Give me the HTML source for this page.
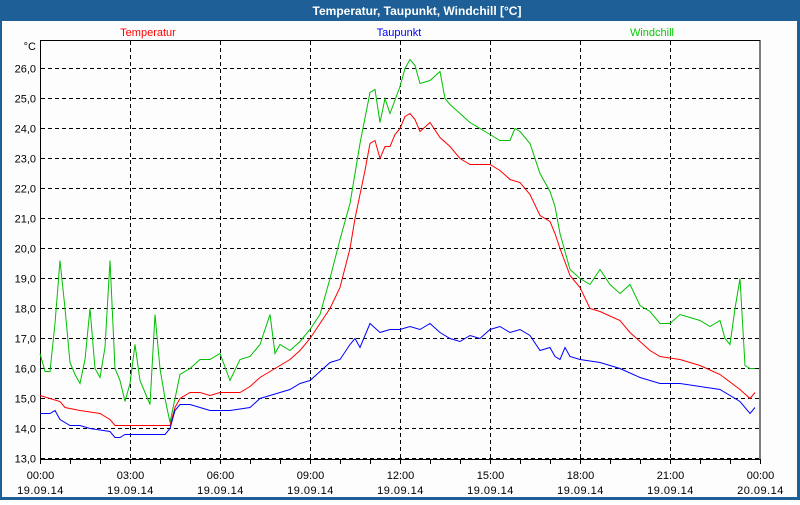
<!DOCTYPE html>
<html><head><meta charset="utf-8"><style>
body{margin:0;width:800px;height:500px;overflow:hidden;background:#fff}
</style></head><body>
<svg id="s" width="800" height="500" xmlns="http://www.w3.org/2000/svg" font-family="Liberation Sans, sans-serif">
<rect x="0" y="0" width="800" height="500" fill="#1d5f96"/>
<rect x="2" y="21" width="795" height="476" fill="#fdfdfd"/>
<text x="417" y="15" fill="#fff" font-size="12" font-weight="bold" text-anchor="middle">Temperatur, Taupunkt, Windchill [°C]</text>
<text x="148" y="36" fill="#ff0000" font-size="11" text-anchor="middle">Temperatur</text>
<text x="399" y="36" fill="#0000ff" font-size="11" text-anchor="middle">Taupunkt</text>
<text x="652" y="36" fill="#00cc00" font-size="11" text-anchor="middle">Windchill</text>
<text x="36" y="50" font-size="11" text-anchor="end">°C</text>
<g id="grid" stroke="#000" stroke-width="1" stroke-dasharray="4,3" fill="none"></g>
<rect x="40.5" y="40.5" width="719.5" height="419" fill="none" stroke="#000" stroke-width="1"/>
<g id="lab" font-size="11"></g>
<polyline id="g" fill="none" stroke="#00c000" stroke-width="1"/>
<polyline id="r" fill="none" stroke="#ff0000" stroke-width="1"/>
<polyline id="b" fill="none" stroke="#0000ff" stroke-width="1"/>
</svg>
<script>
var ns="http://www.w3.org/2000/svg";
function Y(v){return 68.5+(26-v)*30;}
var grid=document.getElementById('grid'),lab=document.getElementById('lab');
function el(p,t,a,txt){var e=document.createElementNS(ns,t);for(var k in a)e.setAttribute(k,a[k]);if(txt)e.textContent=txt;p.appendChild(e);return e;}
for(var v=13;v<=26;v++){var y=Y(v);el(grid,'line',{x1:41,x2:760,y1:y,y2:y});
el(lab,'text',{x:36,y:y+4,'text-anchor':'end'},v+',0');}
var times=['00:00','03:00','06:00','09:00','12:00','15:00','18:00','21:00','00:00'];
var dates=['19.09.14','19.09.14','19.09.14','19.09.14','19.09.14','19.09.14','19.09.14','19.09.14','20.09.14'];
for(var i=0;i<9;i++){var x=40.5+i*90;if(i>0&&i<8)el(grid,'line',{x1:x,x2:x,y1:41,y2:459});
el(lab,'text',{x:x,y:479,'text-anchor':'middle'},times[i]);el(lab,'text',{x:x,y:494,'text-anchor':'middle','letter-spacing':'0.5'},dates[i]);}
for(var h=0;h<=24;h++){var x=40.5+h*30;el(lab,'line',{x1:x,x2:x,y1:459,y2:464,stroke:'#000'});}
function P(id,d){var s=[];for(var i=0;i<d.length;i+=2)s.push(d[i]+','+Y(d[i+1]).toFixed(1));document.getElementById(id).setAttribute('points',s.join(' '));}
P('r',[40,15.1,60,14.9,65,14.7,80,14.6,100,14.5,110,14.3,115,14.1,130,14.1,170,14.1,175,14.7,180,15.0,190,15.2,200,15.2,210,15.1,220,15.2,240,15.2,250,15.4,260,15.7,270,15.9,280,16.1,290,16.3,300,16.6,310,17.0,320,17.5,330,18.0,340,18.7,350,20.0,355,21.0,360,21.8,365,22.6,370,23.5,375,23.6,380,23.0,385,23.4,390,23.4,395,23.8,400,24.0,405,24.4,410,24.5,415,24.3,420,23.9,430,24.2,440,23.7,450,23.4,460,23.0,470,22.8,480,22.8,490,22.8,500,22.6,510,22.3,520,22.2,530,21.8,540,21.1,550,20.9,555,20.5,560,20.0,570,19.1,580,18.7,590,18.0,600,17.9,620,17.6,630,17.2,640,16.9,650,16.6,660,16.4,680,16.3,690,16.2,700,16.1,720,15.8,740,15.3,750,15.0,755,15.2]);
P('b',[40,14.5,50,14.5,55,14.6,60,14.3,70,14.1,80,14.1,90,14.0,100,13.95,110,13.9,115,13.7,120,13.7,125,13.8,130,13.8,165,13.8,170,14.0,175,14.6,180,14.8,190,14.8,200,14.7,210,14.6,230,14.6,250,14.7,260,15.0,270,15.1,280,15.2,290,15.3,300,15.5,310,15.6,320,15.9,330,16.2,340,16.3,350,16.8,355,17.0,360,16.7,370,17.5,380,17.2,390,17.3,400,17.3,410,17.4,420,17.3,430,17.5,440,17.2,450,17.0,460,16.9,470,17.1,480,17.0,490,17.3,500,17.4,510,17.2,520,17.3,530,17.1,540,16.6,550,16.7,555,16.4,560,16.3,565,16.7,570,16.4,580,16.3,600,16.2,620,16.0,640,15.7,660,15.5,680,15.5,700,15.4,720,15.3,740,14.9,750,14.5,755,14.7]);
P('g',[40,16.5,45,15.9,50,15.9,55,17.5,60,19.6,65,18.0,70,16.2,75,15.8,80,15.5,85,16.3,90,18.0,95,16.0,100,15.7,105,16.7,110,19.6,115,16.0,120,15.6,125,14.9,130,15.5,135,16.8,140,15.6,145,15.2,150,14.8,155,17.8,160,16.0,165,15.0,170,14.2,175,15.0,180,15.8,190,16.0,200,16.3,210,16.3,220,16.5,230,15.6,240,16.3,250,16.4,260,16.8,270,17.8,275,16.5,280,16.8,290,16.6,300,16.9,310,17.3,320,17.8,330,19.0,340,20.3,350,21.5,355,22.5,360,23.5,370,25.2,375,25.3,380,24.2,385,25.0,390,24.5,400,25.4,405,26.0,410,26.3,415,26.1,420,25.5,430,25.6,440,25.9,445,25.0,450,24.8,460,24.5,470,24.2,480,24.0,490,23.8,500,23.6,510,23.6,515,24.0,520,23.9,530,23.5,540,22.5,550,21.9,555,21.4,560,20.5,570,19.3,580,19.0,590,18.8,600,19.3,610,18.8,620,18.5,630,18.8,640,18.1,650,17.9,660,17.5,670,17.5,680,17.8,690,17.7,700,17.6,710,17.4,720,17.6,725,17.0,730,16.8,735,18.0,740,19.0,745,16.1,750,16.0,755,16.0]);
</script>
</body></html>
